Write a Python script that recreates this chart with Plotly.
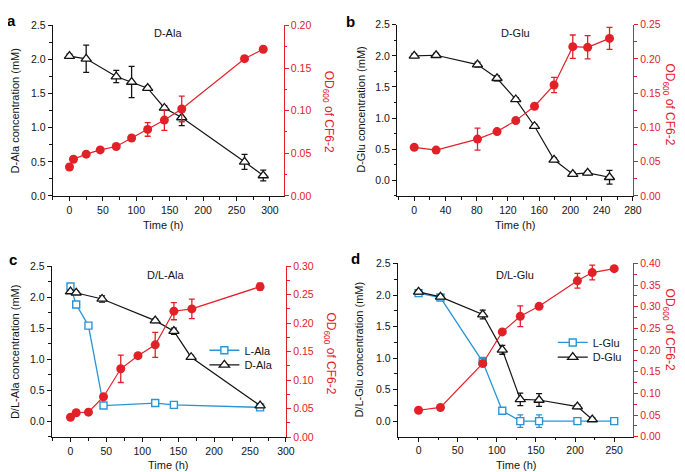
import plotly.graph_objects as go

RED = 'rgb(226,32,40)'
BLUE = 'rgb(40,150,214)'
BLACK = 'rgb(20,20,20)'
FONT = 'Liberation Sans, Arial, sans-serif'
W, H = 685, 472

# ---------------- data ----------------
# panel a: D-Ala
a_t_dala = [0, 25, 70, 93, 117, 142, 168, 262, 290]
a_dala = [2.05, 2.01, 1.75, 1.67, 1.58, 1.29, 1.15, 0.50, 0.30]
a_dala_err = [0.03, 0.20, 0.09, 0.23, 0.03, 0.03, 0.12, 0.11, 0.08]
a_t_od = [0, 6, 25, 46, 70, 93, 117, 142, 168, 262, 290]
a_od = [0.034, 0.043, 0.049, 0.054, 0.058, 0.068, 0.078, 0.089, 0.102, 0.161, 0.172]
a_od_err = [0, 0, 0, 0, 0, 0, 0.008, 0.012, 0.015, 0, 0]

# panel b: D-Glu
b_t = [0, 28, 81, 106, 130, 154, 179, 203, 222, 250]
b_dglu = [2.00, 2.01, 1.86, 1.64, 1.30, 0.87, 0.33, 0.10, 0.12, 0.05]
b_dglu_err = [0.03, 0.03, 0.04, 0.04, 0.03, 0.03, 0.03, 0.03, 0.03, 0.11]
b_od = [0.071, 0.067, 0.083, 0.094, 0.110, 0.131, 0.162, 0.218, 0.217, 0.230]
b_od_err = [0, 0, 0.016, 0, 0, 0, 0.011, 0.017, 0.017, 0.016]

# panel c: D/L-Ala
c_t_l = [0, 8, 25, 46, 118, 144, 264]
c_lala = [2.17, 1.88, 1.54, 0.25, 0.29, 0.26, 0.22]
c_lala_err = [0.02, 0.02, 0.02, 0.02, 0.03, 0.04, 0.02]
c_t_d = [0, 8, 44, 118, 144, 168, 264]
c_dala = [2.09, 2.07, 1.97, 1.62, 1.45, 1.03, 0.25]
c_dala_err = [0.02, 0.02, 0.05, 0.03, 0.05, 0.03, 0.03]
c_t_od = [0, 8, 25, 46, 70, 94, 118, 144, 169, 264]
c_od = [0.035, 0.043, 0.044, 0.071, 0.120, 0.143, 0.162, 0.221, 0.225, 0.264]
c_od_err = [0, 0, 0, 0, 0.024, 0, 0.022, 0.015, 0.017, 0.006]

# panel d: D/L-Glu
d_t_l = [0, 28, 82, 107, 130, 154, 203, 250]
d_lglu = [2.03, 1.96, 0.94, 0.165, 0.0, 0.0, 0.0, 0.0]
d_lglu_err = [0.03, 0.03, 0.07, 0.03, 0.10, 0.10, 0.03, 0.0]
d_t_d = [0, 28, 82, 107, 130, 154, 203, 222]
d_dglu = [2.05, 1.97, 1.69, 1.13, 0.345, 0.335, 0.23, 0.025]
d_dglu_err = [0.03, 0.03, 0.07, 0.07, 0.10, 0.10, 0.03, 0.03]
d_t_od = [0, 28, 82, 107, 130, 154, 203, 222, 250]
d_od = [0.061, 0.0675, 0.169, 0.242, 0.278, 0.301, 0.360, 0.379, 0.388]
d_od_err = [0, 0, 0, 0, 0.024, 0, 0.017, 0.017, 0]

panel_letters = ['a', 'b', 'c', 'd']
panel_titles = ['D-Ala', 'D-Glu', 'D/L-Ala', 'D/L-Glu']
left_titles = ['D-Ala concentration (mM)', 'D-Glu concentration (mM)',
               'D/L-Ala concentration (mM)', 'D/L-Glu concentration (mM)']
right_title = 'OD<sub>600</sub> of CF6-2'
x_title = 'Time (h)'


def px(x):
    return x / W


def py(y):
    return 1 - y / H


fig = go.Figure()


def tri(x, y, err, xa, ya, name=None, legend=None):
    fig.add_trace(go.Scatter(
        x=x, y=y, mode='lines+markers', xaxis=xa, yaxis=ya, name=name,
        showlegend=name is not None, legend=legend,
        line=dict(color=BLACK, width=1.2),
        marker=dict(symbol='triangle-up', size=9, color='white',
                    line=dict(color=BLACK, width=1.3)),
        error_y=dict(type='data', array=err, color=BLACK, thickness=1.3, width=3)))


def sq(x, y, err, xa, ya, name, legend):
    fig.add_trace(go.Scatter(
        x=x, y=y, mode='lines+markers', xaxis=xa, yaxis=ya, name=name,
        showlegend=True, legend=legend,
        line=dict(color=BLUE, width=1.3),
        marker=dict(symbol='square', size=7, color='white',
                    line=dict(color=BLUE, width=1.4)),
        error_y=dict(type='data', array=err, color=BLUE, thickness=1.3, width=3)))


def dots(x, y, err, xa, ya):
    fig.add_trace(go.Scatter(
        x=x, y=y, mode='lines+markers', xaxis=xa, yaxis=ya, showlegend=False,
        line=dict(color=RED, width=1.2),
        marker=dict(symbol='circle', size=9, color=RED),
        error_y=dict(type='data', array=err, color=RED, thickness=1.3, width=3)))


# panel a
tri(a_t_dala, a_dala, a_dala_err, 'x', 'y')
dots(a_t_od, a_od, a_od_err, 'x', 'y2')
# panel b
tri(b_t, b_dglu, b_dglu_err, 'x2', 'y3')
dots(b_t, b_od, b_od_err, 'x2', 'y4')
# panel c
sq(c_t_l, c_lala, c_lala_err, 'x3', 'y5', 'L-Ala', 'legend')
tri(c_t_d, c_dala, c_dala_err, 'x3', 'y5', 'D-Ala', 'legend2')
dots(c_t_od, c_od, c_od_err, 'x3', 'y6')
# panel d
sq(d_t_l, d_lglu, d_lglu_err, 'x4', 'y7', 'L-Glu', 'legend3')
tri(d_t_d, d_dglu, d_dglu_err, 'x4', 'y7', 'D-Glu', 'legend4')
dots(d_t_od, d_od, d_od_err, 'x4', 'y8')

panels = [
    dict(x0=45.3, x1=279.3, y0=11.7, y1=186.7, xr=[-25.1, 320.5], yl=[0, 2.5], yr=[0, 0.20], dt=50, mdt=25),
    dict(x0=394.3, x1=633.3, y0=11.0, y1=186.7, xr=[-21.9, 280.05], yl=[-0.25, 2.5], yr=[0, 0.25], dt=40, mdt=20),
    dict(x0=44.3, x1=281.7, y0=258.7, y1=434.3, xr=[-26.1, 300.05], yl=[-0.262, 2.5], yr=[0, 0.30], dt=50, mdt=25),
    dict(x0=395.0, x1=633.3, y0=256.0, y1=433.7, xr=[-26.5, 274], yl=[-0.247, 2.5], yr=[0, 0.40], dt=50, mdt=25),
]

tickfont = dict(family=FONT, size=10.5, color=BLACK)
redfont = dict(family=FONT, size=10.5, color=RED)
layout = dict(
    width=W, height=H, margin=dict(l=0, r=0, t=0, b=0),
    plot_bgcolor='white', paper_bgcolor='white',
    font=dict(family=FONT, size=11, color=BLACK),
)
for i, p in enumerate(panels):
    xn = 'xaxis' if i == 0 else f'xaxis{i + 1}'
    yl = 'yaxis' if i == 0 else f'yaxis{2 * i + 1}'
    yr = f'yaxis{2 * i + 2}'
    xid = 'x' if i == 0 else f'x{i + 1}'
    ylid = 'y' if i == 0 else f'y{2 * i + 1}'
    layout[xn] = dict(
        domain=[px(p['x0']), px(p['x1'])], range=p['xr'], anchor=ylid,
        showline=True, linecolor=BLACK, linewidth=1.2, mirror=False,
        ticks='outside', ticklen=4, tickwidth=1.1, tickcolor=BLACK,
        tick0=0, dtick=p['dt'], showgrid=False, zeroline=False, tickfont=tickfont,
        minor=dict(ticks='outside', ticklen=2.5, tickwidth=1, tickcolor=BLACK,
                   tick0=0, dtick=p['mdt'], showgrid=False))
    layout[yl] = dict(
        domain=[py(p['y1']), py(p['y0'])], range=p['yl'], anchor=xid,
        showline=True, linecolor=BLACK, linewidth=1.2,
        ticks='outside', ticklen=4, tickwidth=1.1, tickcolor=BLACK,
        tick0=0, dtick=0.5, tickformat='.1f', showgrid=False, zeroline=False,
        tickfont=tickfont,
        minor=dict(ticks='outside', ticklen=2.5, tickwidth=1, tickcolor=BLACK,
                   tick0=0, dtick=0.25, showgrid=False))
    layout[yr] = dict(
        overlaying=ylid, side='right', anchor=xid, range=p['yr'],
        showline=True, linecolor=RED, linewidth=1.2,
        ticks='outside', ticklen=4, tickwidth=1.1, tickcolor=RED,
        tick0=0, dtick=0.05, tickformat='.2f', showgrid=False, zeroline=False,
        tickfont=redfont,
        minor=dict(ticks='outside', ticklen=2.5, tickwidth=1, tickcolor=RED,
                   tick0=0, dtick=0.025, showgrid=False))

leg_common = dict(bgcolor='rgba(0,0,0,0)', borderwidth=0, itemwidth=30,
                  font=dict(family=FONT, size=11, color=BLACK),
                  xanchor='left', yanchor='middle')
layout['legend'] = dict(x=px(199), y=py(345), **leg_common)
layout['legend2'] = dict(x=px(199), y=py(360), **leg_common)
layout['legend3'] = dict(x=px(552), y=py(337), **leg_common)
layout['legend4'] = dict(x=px(552), y=py(352), **leg_common)

fig.update_layout(**layout)

ann = []
letter_pos = [(4, 7), (347, 8), (5, 252), (352, 251)]
title_pos = [(162, 20), (514, 20), (160, 268), (514, 268)]
left_pos = [(8, 99), (357, 98), (7, 346), (356, 344)]
right_pos = [(324, 100), (670, 93), (326, 348), (670, 324)]
xt_pos = [(158, 217), (514, 217), (163, 463), (515, 463)]
for i in range(4):
    ann.append(dict(text=f'<b>{panel_letters[i]}</b>', x=px(letter_pos[i][0]), y=py(letter_pos[i][1]),
                    font=dict(family=FONT, size=15, color='black')))
    ann.append(dict(text=panel_titles[i], x=px(title_pos[i][0]), y=py(title_pos[i][1]),
                    font=dict(family=FONT, size=11, color=BLACK)))
    ann.append(dict(text=left_titles[i], x=px(left_pos[i][0]), y=py(left_pos[i][1]), textangle=-90,
                    font=dict(family=FONT, size=11, color=BLACK)))
    ann.append(dict(text=right_title, x=px(right_pos[i][0]), y=py(right_pos[i][1]), textangle=90,
                    font=dict(family=FONT, size=12, color=RED)))
    ann.append(dict(text=x_title, x=px(xt_pos[i][0]), y=py(xt_pos[i][1]),
                    font=dict(family=FONT, size=11, color=BLACK)))
for a in ann:
    a.update(xref='paper', yref='paper', showarrow=False, xanchor='center', yanchor='middle')
fig.update_layout(annotations=ann)

fig.write_html('out.html')
